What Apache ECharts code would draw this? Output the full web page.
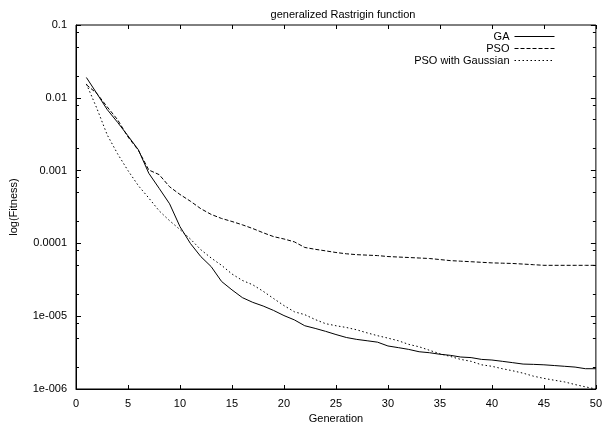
<!DOCTYPE html>
<html>
<head>
<meta charset="utf-8">
<title>generalized Rastrigin function</title>
<script src="https://cdn.jsdelivr.net/npm/echarts@6/dist/echarts.min.js"></script>
<style>
  html, body { margin: 0; padding: 0; background: #fff; }
  #chart { width: 605px; height: 430px; }
</style>
</head>
<body>
<div id="chart"></div>
<script>
// Best fitness per generation for each optimiser
const generations = Array.from({ length: 50 }, (_, i) => i + 1);

const gaValues = [
  0.019, 0.0115, 0.0069, 0.0046, 0.003, 0.00193, 0.00092, 0.00057, 0.00035, 0.00017,
  0.0001, 6.6e-5, 4.8e-5, 3.0e-5, 2.3e-5, 1.8e-5, 1.55e-5, 1.38e-5, 1.2e-5, 1.02e-5,
  8.9e-6, 7.4e-6, 6.8e-6, 6.2e-6, 5.6e-6, 5.1e-6, 4.8e-6, 4.6e-6, 4.4e-6, 3.9e-6,
  3.7e-6, 3.5e-6, 3.25e-6, 3.15e-6, 3.0e-6, 2.9e-6, 2.75e-6, 2.7e-6, 2.55e-6, 2.5e-6,
  2.4e-6, 2.3e-6, 2.2e-6, 2.18e-6, 2.15e-6, 2.1e-6, 2.05e-6, 2.0e-6, 1.9e-6, 1.9e-6
];

const psoValues = [
  0.0151, 0.0115, 0.0075, 0.005, 0.0029, 0.0019, 0.00102, 0.00088, 0.0006, 0.00047,
  0.00038, 0.0003, 0.00025, 0.00022, 0.0002, 0.00018, 0.00016, 0.00014, 0.000124, 0.000115,
  0.000105, 8.8e-5, 8.3e-5, 7.9e-5, 7.5e-5, 7.2e-5, 7.0e-5, 6.9e-5, 6.8e-5, 6.6e-5,
  6.5e-5, 6.4e-5, 6.3e-5, 6.2e-5, 6.0e-5, 5.8e-5, 5.7e-5, 5.6e-5, 5.5e-5, 5.4e-5,
  5.35e-5, 5.3e-5, 5.2e-5, 5.1e-5, 5.0e-5, 5.0e-5, 5.0e-5, 5.0e-5, 5.0e-5, 5.0e-5
];

const psoGaussValues = [
  0.0155, 0.0072, 0.0031, 0.0017, 0.001, 0.00062, 0.00042, 0.00028, 0.000205, 0.000155,
  0.000115, 8.2e-5, 6.3e-5, 5.0e-5, 3.8e-5, 3.1e-5, 2.7e-5, 2.2e-5, 1.75e-5, 1.4e-5,
  1.15e-5, 1.05e-5, 9.0e-6, 7.9e-6, 7.4e-6, 7.0e-6, 6.5e-6, 5.9e-6, 5.4e-6, 5.0e-6,
  4.6e-6, 4.1e-6, 3.8e-6, 3.4e-6, 3.05e-6, 2.8e-6, 2.55e-6, 2.4e-6, 2.15e-6, 2.05e-6,
  1.9e-6, 1.78e-6, 1.65e-6, 1.5e-6, 1.4e-6, 1.32e-6, 1.25e-6, 1.15e-6, 1.07e-6, 1.0e-6
];

const seriesNames = ['GA', 'PSO', 'PSO with Gaussian'];

// Y-axis decades and their printed labels
const yTickValues = [1e-6, 1e-5, 1e-4, 1e-3, 1e-2, 1e-1];
const yTickLabels = ['1e-006', '1e-005', '0.0001', '0.001', '0.01', '0.1'];
// Minor ticks inside each decade (0.2, 0.5, 0.8 of the upper decade)
const yMinorValues = [];
for (let e = -6; e < -1; e++) {
  [2, 5, 8].forEach(m => yMinorValues.push(m * Math.pow(10, e)));
}

const FONT = '"Liberation Sans", Arial, Helvetica, sans-serif';
const INK = '#000';

function yLabel(v) {
  const e = Math.round(Math.log10(v));
  const i = yTickValues.findIndex(t => Math.round(Math.log10(t)) === e);
  return i >= 0 ? yTickLabels[i] : '';
}

function pairs(vals) {
  return generations.map((g, i) => [g, vals[i]]);
}

const tickLine = { color: INK, width: 1 };

const chart = echarts.init(document.getElementById('chart'), null, { renderer: 'canvas' });
chart.setOption({
  animation: false,
  backgroundColor: '#fff',
  textStyle: { fontFamily: FONT },
  title: {
    text: 'generalized Rastrigin function',
    left: 338,
    textAlign: 'center',
    top: 4,
    textStyle: { fontFamily: FONT, fontSize: 11, fontWeight: 'normal', color: INK }
  },
  legend: {
    orient: 'vertical',
    right: 50,
    top: 31,
    align: 'right',
    padding: 0,
    itemGap: 1,
    itemWidth: 40,
    itemHeight: 11,
    selectedMode: false,
    data: seriesNames,
    // line samples only, no marker dot
    itemStyle: { opacity: 0 },
    lineStyle: { width: 1 },
    textStyle: { fontFamily: FONT, fontSize: 11, color: INK, lineHeight: 11 }
  },
  grid: {
    left: 75, right: 3, top: 25, bottom: 41,
    show: true, borderColor: INK, borderWidth: 1, backgroundColor: 'transparent'
  },
  xAxis: [
    {
      type: 'value', position: 'bottom', min: 0, max: 50, interval: 5,
      name: 'Generation', nameLocation: 'middle', nameGap: 24,
      nameTextStyle: { fontFamily: FONT, fontSize: 11, color: INK },
      axisLine: { show: true, lineStyle: tickLine },
      axisTick: { show: true, inside: true, length: 4, lineStyle: tickLine },
      axisLabel: { fontFamily: FONT, fontSize: 11, color: INK, margin: 9 },
      splitLine: { show: false }
    },
    {
      type: 'value', position: 'top', min: 0, max: 50, interval: 5,
      axisLine: { show: false },
      axisTick: { show: true, inside: true, length: 4, lineStyle: tickLine },
      axisLabel: { show: false },
      splitLine: { show: false }
    }
  ],
  yAxis: [
    {
      type: 'log', logBase: 10, position: 'left', min: 1e-6, max: 0.1,
      name: 'log(Fitness)', nameLocation: 'middle', nameGap: 57,
      nameTextStyle: { fontFamily: FONT, fontSize: 11, color: INK },
      axisLine: { show: true, lineStyle: tickLine },
      axisTick: { show: true, inside: true, length: 5, lineStyle: tickLine, customValues: yTickValues },
      axisLabel: { fontFamily: FONT, fontSize: 11, color: INK, margin: 9, customValues: yTickValues, formatter: yLabel },
      splitLine: { show: false }
    },
    {
      type: 'log', logBase: 10, position: 'left', min: 1e-6, max: 0.1,
      axisLine: { show: false },
      axisTick: { show: true, inside: true, length: 3, lineStyle: tickLine, customValues: yMinorValues },
      axisLabel: { show: false },
      splitLine: { show: false }
    },
    {
      type: 'log', logBase: 10, position: 'right', min: 1e-6, max: 0.1,
      axisLine: { show: false },
      axisTick: { show: true, inside: true, length: 5, lineStyle: tickLine, customValues: yTickValues },
      axisLabel: { show: false },
      splitLine: { show: false }
    },
    {
      type: 'log', logBase: 10, position: 'right', min: 1e-6, max: 0.1,
      axisLine: { show: false },
      axisTick: { show: true, inside: true, length: 3, lineStyle: tickLine, customValues: yMinorValues },
      axisLabel: { show: false },
      splitLine: { show: false }
    }
  ],
  series: [
    {
      name: seriesNames[0], type: 'line', xAxisIndex: 0, yAxisIndex: 0,
      symbol: 'none', data: pairs(gaValues),
      itemStyle: { color: INK },
      lineStyle: { color: INK, width: 1, type: 'solid' }
    },
    {
      name: seriesNames[1], type: 'line', xAxisIndex: 0, yAxisIndex: 0,
      symbol: 'none', data: pairs(psoValues),
      itemStyle: { color: INK },
      lineStyle: { color: INK, width: 1, type: [4, 2] }
    },
    {
      name: seriesNames[2], type: 'line', xAxisIndex: 0, yAxisIndex: 0,
      symbol: 'none', data: pairs(psoGaussValues),
      itemStyle: { color: INK },
      lineStyle: { color: INK, width: 1, type: [1.5, 2.5] }
    }
  ]
});
</script>
</body>
</html>
